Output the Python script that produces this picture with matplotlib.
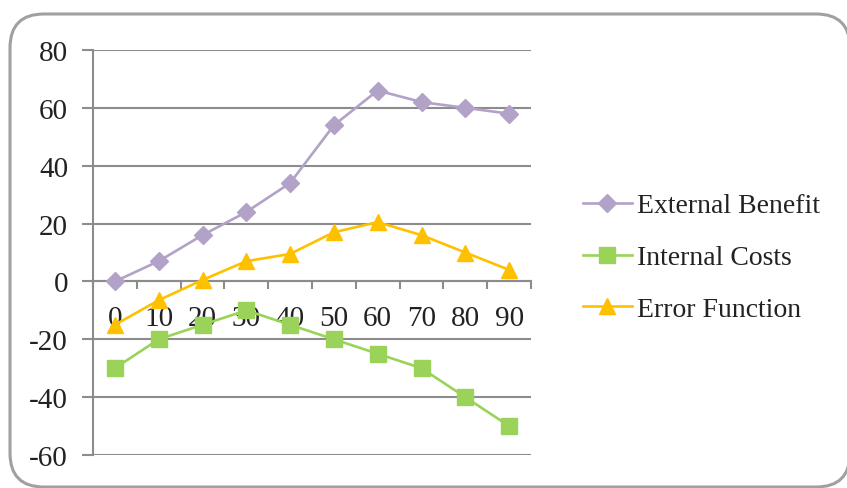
import numpy as np
import matplotlib
matplotlib.use('Agg')
import matplotlib.pyplot as plt
from matplotlib.patches import FancyBboxPatch

# series values per category
categories = ['0', '10', '20', '30', '40', '50', '60', '70', '80', '90']
external_benefit = [0, 7, 16, 24, 34, 54, 66, 62, 60, 58]
internal_costs = [-30, -20, -15, -10, -15, -20, -25, -30, -40, -50]
error_function = [-15, -6.5, 0.5, 7, 9.5, 17, 20.5, 16, 10, 4]
y_ticks = [-60, -40, -20, 0, 20, 40, 60, 80]

plt.rcParams['font.family'] = ['Liberation Serif', 'DejaVu Serif']

grid_c = '#8c8c8c'
fs = 21

fig = plt.figure(figsize=(8.47, 4.89), dpi=100)

# rounded chart frame, kept behind the axes
frame = FancyBboxPatch((10/847, 1 - 488/489), 840/847, 473/489,
                       boxstyle='round,pad=0,rounding_size=0.04',
                       transform=fig.transFigure, fc='white', ec='#a0a0a0', lw=2.2,
                       mutation_aspect=847/489, zorder=-1)
fig.patches.append(frame)

ax = fig.add_axes([93/847, 1 - 456/489, (531 - 93)/847, (456 - 51)/489])
ax.set_facecolor('none')

x = np.arange(len(categories)) + 0.5

# series sit under the category labels, which are drawn by the axis
ax.plot(x, external_benefit, color='#b3a2c7', lw=1.9, marker='D', ms=9,
        label='External Benefit', zorder=2)
ax.plot(x, internal_costs, color='#9bd25a', lw=1.9, marker='s', ms=11,
        label='Internal Costs', zorder=2)
ax.plot(x, error_function, color='#ffc000', lw=1.9, marker='^', ms=12,
        label='Error Function', zorder=2)

ax.set_xlim(0, len(categories))
ax.set_ylim(-60, 80)
ax.set_yticks(y_ticks)
ax.set_yticklabels([str(v) for v in y_ticks], fontsize=fs, color='#222222')
for v in y_ticks:
    ax.axhline(v, color=grid_c, lw=1.5, zorder=1)

# category axis crosses at zero
ax.spines['bottom'].set_position(('data', 0))
ax.spines['bottom'].set_color(grid_c)
ax.spines['bottom'].set_linewidth(1.5)
ax.spines['bottom'].set_zorder(1)
ax.spines['left'].set_color(grid_c)
ax.spines['left'].set_linewidth(1.5)
ax.spines['top'].set_visible(False)
ax.spines['right'].set_visible(False)

ax.set_xticks(np.arange(len(categories) + 1))
ax.set_xticklabels([])
ax.set_xticks(x, minor=True)
ax.set_xticklabels(categories, minor=True, fontsize=fs, color='#222222')
ax.tick_params(axis='x', which='major', direction='out', length=6, width=1.5, color=grid_c)
ax.tick_params(axis='x', which='minor', length=0, pad=17)
ax.tick_params(axis='y', direction='out', length=8, width=1.5, color=grid_c, pad=10)

leg = ax.legend(loc='upper left', bbox_to_anchor=(583/847, 1 - 194/489),
                bbox_transform=fig.transFigure, frameon=False, fontsize=20,
                handlelength=1.75, handletextpad=0.2, labelspacing=0.95, borderpad=0,
                borderaxespad=0)
for t in leg.get_texts():
    t.set_color('#222222')

fig.savefig('out.png', dpi=100)
